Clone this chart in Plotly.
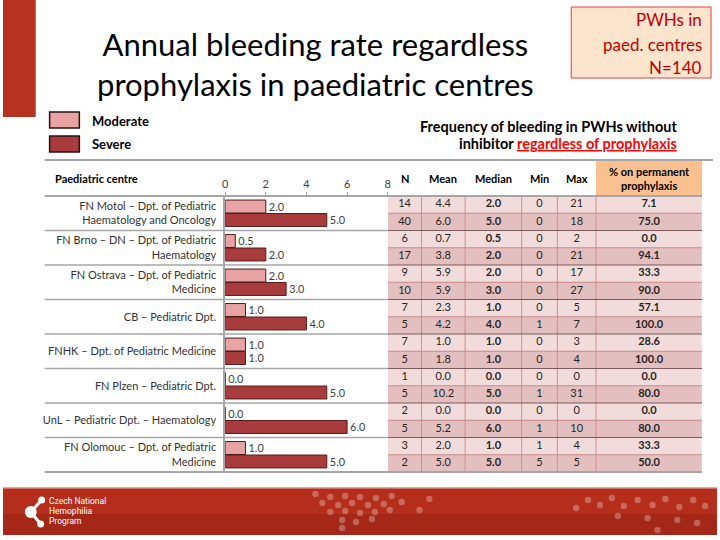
import plotly.graph_objects as go

# ---------------- data ----------------
centres = [
    "FN Motol – Dpt. of Pediatric<br>Haematology and Oncology",
    "FN Brno – DN – Dpt. of Pediatric<br>Haematology",
    "FN Ostrava – Dpt. of Pediatric<br>Medicine",
    "CB – Pediatric Dpt.",
    "FNHK – Dpt. of Pediatric Medicine",
    "FN Plzen – Pediatric Dpt.",
    "UnL – Pediatric Dpt. – Haematology",
    "FN Olomouc – Dpt. of Pediatric<br>Medicine",
]
median_moderate = [2.0, 0.5, 2.0, 1.0, 1.0, 0.0, 0.0, 1.0]
median_severe = [5.0, 2.0, 3.0, 4.0, 1.0, 5.0, 6.0, 5.0]
n_moderate = [14, 6, 9, 7, 7, 1, 2, 3]
n_severe = [40, 17, 10, 5, 5, 5, 5, 2]
mean_moderate = [4.4, 0.7, 5.9, 2.3, 1.0, 0.0, 0.0, 2.0]
mean_severe = [6.0, 3.8, 5.9, 4.2, 1.8, 10.2, 5.2, 5.0]
min_moderate = [0, 0, 0, 0, 0, 0, 0, 1]
min_severe = [0, 0, 0, 1, 0, 1, 1, 5]
max_moderate = [21, 2, 17, 5, 3, 0, 0, 4]
max_severe = [18, 21, 27, 7, 4, 31, 10, 5]
proph_moderate = [7.1, 0.0, 33.3, 57.1, 28.6, 0.0, 0.0, 33.3]
proph_severe = [75.0, 94.1, 90.0, 100.0, 100.0, 80.0, 80.0, 50.0]
columns = ["N", "Mean", "Median", "Min", "Max", "% on permanent<br>prophylaxis"]
x_ticks = [0, 2, 4, 6, 8]

# ---------------- layout helpers ----------------
W, H = 720, 540
FONT = "Lato"
def px(x):
    return x / W
def py(y):
    return 1 - y / H

MOD_COLOR = "#e8a4a4"
SEV_COLOR = "#a83c3c"
col_edges = [0, 34, 78, 135, 171, 210, 317]  # table column widths (px)
col_centres = [(col_edges[i] + col_edges[i + 1]) / 2 for i in range(len(columns))]
pos = list(range(len(centres)))

fig = go.Figure()

# bars
fig.add_trace(go.Bar(
    y=pos, x=median_moderate, orientation="h", name="Moderate",
    marker=dict(color=MOD_COLOR, line=dict(color="#4a1c1c", width=1)),
    texttemplate="%{x:.1f}", textposition="outside",
    textfont=dict(size=11, color="#404040", family=FONT),
    cliponaxis=False, hoverinfo="skip", xaxis="x", yaxis="y"))
fig.add_trace(go.Bar(
    y=pos, x=median_severe, orientation="h", name="Severe",
    marker=dict(color=SEV_COLOR, line=dict(color="#5a1818", width=1)),
    texttemplate="%{x:.1f}", textposition="outside",
    textfont=dict(size=11, color="#404040", family=FONT),
    cliponaxis=False, hoverinfo="skip", xaxis="x", yaxis="y"))

# table background (heatmap sharing the bar y scale)
row_edges, z, texts_x, texts_y, texts = [-0.5], [], [], [], []
for i in pos:
    rows = [
        (n_moderate[i], mean_moderate[i], median_moderate[i], min_moderate[i], max_moderate[i], proph_moderate[i]),
        (n_severe[i], mean_severe[i], median_severe[i], min_severe[i], max_severe[i], proph_severe[i]),
    ]
    for k, r in enumerate(rows):
        yy = i - 0.25 + 0.5 * k
        row_edges.append(i + 0.5 * k)
        z.append([k + 1] * len(columns))
        cells = [f"{r[0]}", f"{r[1]:.1f}", f"<b>{r[2]:.1f}</b>", f"{r[3]}", f"{r[4]}", f"<b>{r[5]:.1f}</b>"]
        for j, c in enumerate(cells):
            texts_x.append(col_centres[j])
            texts_y.append(yy)
            texts.append(c)

fig.add_trace(go.Heatmap(
    x=col_edges, y=row_edges, z=z, zmin=1, zmax=2,
    colorscale=[[0, "#f2dcdb"], [1, "#e4bfbf"]], showscale=False,
    hoverinfo="skip", xaxis="x2", yaxis="y"))
fig.add_trace(go.Scatter(
    x=texts_x, y=texts_y, text=texts, mode="text",
    textfont=dict(size=11, color="#262626", family=FONT),
    hoverinfo="skip", xaxis="x2", yaxis="y", showlegend=False))

shapes = []
# table grid
for e in col_edges[1:-1]:
    shapes.append(dict(type="line", xref="x2", yref="y", x0=e, x1=e, y0=-0.5, y1=7.5,
                       line=dict(color="#cf8e8e", width=1)))
for i in pos:
    shapes.append(dict(type="line", xref="x2", yref="y", x0=0, x1=317, y0=i, y1=i,
                       line=dict(color="#c98a8a", width=1)))
for i in pos[:-1]:
    shapes.append(dict(type="line", xref="paper", yref="y", x0=px(42), x1=px(388), y0=i + 0.5, y1=i + 0.5,
                       line=dict(color="#a6a6a6", width=1.5)))
    shapes.append(dict(type="line", xref="x2", yref="y", x0=0, x1=317, y0=i + 0.5, y1=i + 0.5,
                       line=dict(color="#7a5c5c", width=1.2)))
# header lines
for yline, x1 in [(160, 716), (196, 705), (472, 705)]:
    shapes.append(dict(type="line", xref="paper", yref="paper", x0=px(42), x1=px(x1), y0=py(yline), y1=py(yline),
                       line=dict(color="#a6a6a6", width=2)))
# orange header cell
shapes.append(dict(type="rect", xref="paper", yref="paper", x0=px(598), x1=px(705), y0=py(195), y1=py(160),
                   fillcolor="#fac090", line=dict(width=0), layer="below"))
# left red band
shapes.append(dict(type="rect", xref="paper", yref="paper", x0=0, x1=px(33), y0=py(117), y1=1,
                   fillcolor="#b83220", line=dict(width=0)))
# N box
shapes.append(dict(type="rect", xref="paper", yref="paper", x0=px(573), x1=px(714), y0=py(78), y1=py(7),
                   fillcolor="#fde4cc", line=dict(color="#e04040", width=1)))
# legend swatches
shapes.append(dict(type="rect", xref="paper", yref="paper", x0=px(47), x1=px(77), y0=py(128), y1=py(112),
                   fillcolor=MOD_COLOR, line=dict(color="#2a1010", width=1.5)))
shapes.append(dict(type="rect", xref="paper", yref="paper", x0=px(47), x1=px(77), y0=py(152), y1=py(136),
                   fillcolor=SEV_COLOR, line=dict(color="#2a1010", width=1.5)))
# footer
shapes.append(dict(type="rect", xref="paper", yref="paper", x0=0, x1=1, y0=py(535), y1=py(488),
                   fillcolor="#b52e1c", line=dict(width=0)))
shapes.append(dict(type="rect", xref="paper", yref="paper", x0=0, x1=1, y0=py(535), y1=py(514),
                   fillcolor="rgba(90,10,5,0.18)", line=dict(width=0)))
shapes.append(dict(type="line", xref="paper", yref="paper", x0=0, x1=1, y0=py(488), y1=py(488),
                   line=dict(color="#dc8a7c", width=1.5)))
# logo
for (x0, y0, x1, y1) in [(28, 512, 39, 500), (28, 512, 38, 524)]:
    shapes.append(dict(type="line", xref="paper", yref="paper", x0=px(x0), x1=px(x1), y0=py(y0), y1=py(y1),
                       line=dict(color="white", width=3)))
for (cx, cy, r) in [(28, 512, 6), (39, 500, 3.5), (38, 524, 3.5)]:
    shapes.append(dict(type="circle", xref="paper", yref="paper", x0=px(cx - r), x1=px(cx + r),
                       y0=py(cy + r), y1=py(cy - r), fillcolor="white", line=dict(width=0)))
# decorative dots in footer
dots = [(315, 494), (322, 503), (330, 497), (338, 505), (345, 496), (352, 503), (360, 497), (368, 505),
        (376, 498), (384, 504), (392, 496), (330, 512), (345, 511), (360, 513), (375, 512), (390, 510),
        (342, 520), (356, 522), (372, 519), (342, 528), (420, 510), (430, 499), (402, 502),
        (578, 508), (590, 500), (602, 505), (614, 498), (626, 506), (640, 500), (655, 505), (668, 499),
        (682, 507), (696, 500), (708, 506), (620, 516), (650, 518), (680, 520), (700, 523), (660, 530)]
for (cx, cy) in dots:
    r = 3.2
    shapes.append(dict(type="circle", xref="paper", yref="paper", x0=px(cx - r), x1=px(cx + r),
                       y0=py(cy + r), y1=py(cy - r), fillcolor="rgba(255,255,255,0.28)", line=dict(width=0)))

ann = []
def text(x, y, s, size=11, color="#000000", xanchor="center", bold=False, family=FONT):
    ann.append(dict(x=px(x), y=py(y), xref="paper", yref="paper", text=f"<b>{s}</b>" if bold else s,
                    showarrow=False, xanchor=xanchor, yanchor="middle",
                    font=dict(size=size, color=color, family=family),
                    align=xanchor if xanchor != "center" else "center"))

text(315, 64, "Annual bleeding rate regardless<br>prophylaxis in paediatric centres", size=31)
text(707, 20, "PWHs in", size=17, color="#c00000", xanchor="right")
text(707, 44, "paed. centres", size=17, color="#c00000", xanchor="right")
text(707, 68, "N=140", size=17, color="#c00000", xanchor="right")
text(88, 121, "Moderate", size=13, bold=True, xanchor="left")
text(88, 144, "Severe", size=13, bold=True, xanchor="left")
text(682, 126, "Frequency of bleeding in PWHs without", size=14.5, bold=True, xanchor="right")
text(682, 144, "inhibitor <span style='color:#ff0000'><u>regardless of prophylaxis</u></span>", size=14.5, bold=True, xanchor="right")
text(50, 178, "Paediatric centre", size=11, bold=True, xanchor="left")
for j, c in enumerate(columns):
    text(388 + col_centres[j], 178, c, size=11, bold=True)
text(44, 501, "Czech National", size=8.5, color="white", xanchor="left", family="Roboto")
text(44, 511, "Hemophilia", size=8.5, color="white", xanchor="left", family="Roboto")
text(44, 521, "Program", size=8.5, color="white", xanchor="left", family="Roboto")

fig.update_layout(
    width=W, height=H, margin=dict(l=0, r=0, t=0, b=0),
    paper_bgcolor="white", plot_bgcolor="white",
    font=dict(family=FONT, color="#262626"),
    barmode="group", bargap=0.22, bargroupgap=0.04, showlegend=False,
    xaxis=dict(domain=[px(224), px(388)], range=[0, 8], side="top", anchor="y",
               tickvals=x_ticks, ticks="outside", ticklen=3, tickcolor="#a6a6a6",
               showline=True, linecolor="#c8c8c8", showgrid=False, zeroline=False,
               tickfont=dict(size=11, color="#404040")),
    yaxis=dict(domain=[py(472), py(196)], range=[7.5, -0.5], tickvals=pos, ticktext=centres,
               ticks="", showline=True, linecolor="#a6a6a6", linewidth=1.5, showgrid=False, zeroline=False,
               ticklabelstandoff=5, tickfont=dict(size=11, color="#333333"),
               minor=dict(tick0=0.5, dtick=1, ticks="outside", ticklen=4, tickcolor="#a6a6a6")),
    xaxis2=dict(domain=[px(388), px(705)], range=[0, 317], anchor="y", visible=False),
    shapes=shapes, annotations=ann,
)

fig.write_html("out.html", config={"displayModeBar": False},
               post_script="document.body.style.margin='0px';")
